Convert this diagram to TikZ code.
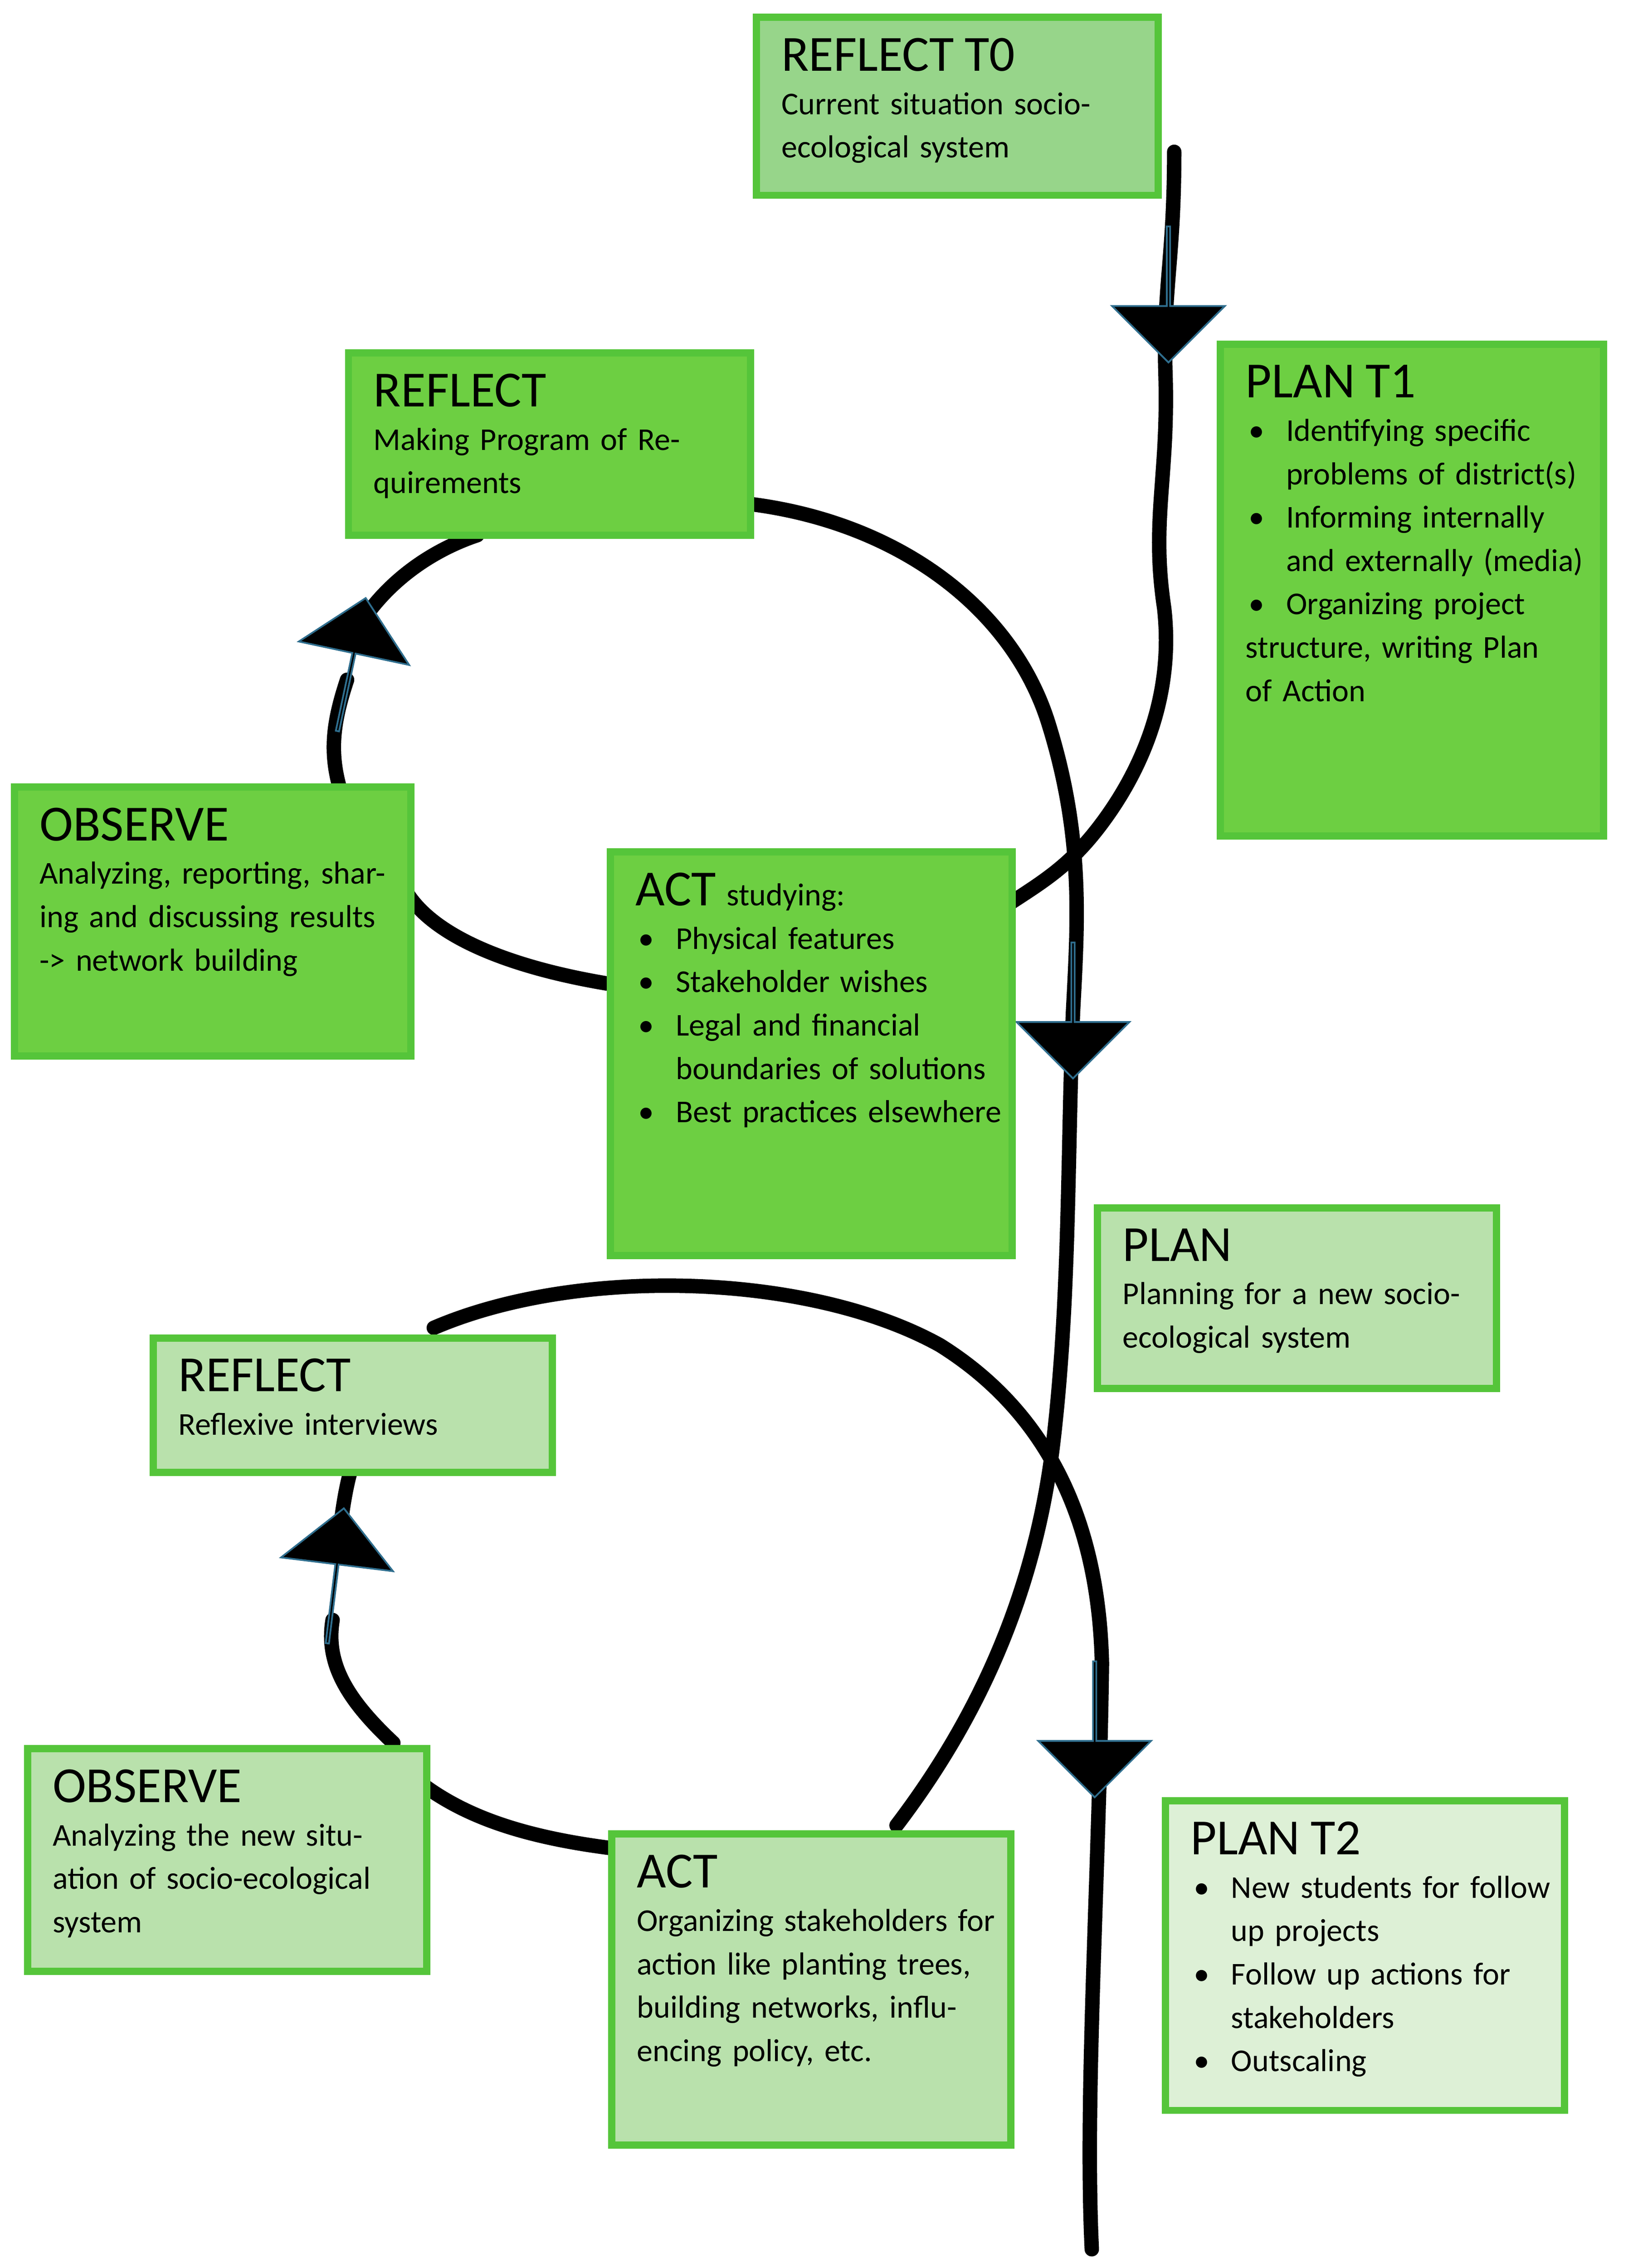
\documentclass[tikz,border=0pt]{standalone}
\usepackage{fontspec}
\setmainfont{Carlito}
\usetikzlibrary{shapes.arrows,calc}
\definecolor{gb}{HTML}{55C53A}
\definecolor{fA}{HTML}{6DCF42}
\definecolor{fB}{HTML}{97D58A}
\definecolor{fC}{HTML}{B9E1AC}
\definecolor{fD}{HTML}{DDF0D6}
\definecolor{arb}{HTML}{2F6E8E}
\newcommand{\ttl}[1]{{\fontsize{17.5}{21}\selectfont #1}\par}
\newcommand{\bi}[1]{\par\hangindent=14pt\hangafter=1\makebox[14pt][l]{\hspace{1pt}\textbullet}#1}
\newcommand{\gbox}[7]{%
  \path[fill=#6,draw=gb,line width=2.5pt] (#2,#3) rectangle (#4,#5);
  \pgfmathsetmacro\tw{(#4-#2)*0.5-12}
  \node[anchor=north west,text width=\tw pt,inner sep=0,align=left,
        font=\fontsize{11}{15}\selectfont] (#1) at ($(#2,#3)+(8.5pt,-7pt)$) {#7};}
\tikzset{blk/.style={single arrow,fill=black,draw=arb,line width=0.6pt,
  minimum width=39pt,minimum height=47pt,inner sep=0pt,text width=0pt,
  single arrow head extend=10pt,single arrow head indent=0pt},
  crv/.style={line width=5pt,line cap=round,line join=round}}
\begin{document}
\begin{tikzpicture}[x=0.5pt,y=-0.5pt]
\useasboundingbox (0,0) rectangle (1129,1568);
% main curve
\draw[crv] (812,105) .. controls (812,180) and (804,200) .. (806,260)
  .. controls (808,330) and (796,360) .. (805,420)
  .. controls (812,480) and (790,530) .. (765,565)
  .. controls (740,600) and (720,610) .. (690,630);
\draw[crv] (420,680) .. controls (360,670) and (300,650) .. (280,615);
\draw[crv] (235,545) .. controls (228,520) and (230,500) .. (240,470);
\draw[crv] (250,430) .. controls (270,400) and (300,380) .. (330,370);
\draw[crv] (515,348) .. controls (620,360) and (700,420) .. (725,500)
  .. controls (750,580) and (745,640) .. (742,700)
  .. controls (738,800) and (740,900) .. (728,1000)
  .. controls (718,1080) and (690,1170) .. (620,1262);
\draw[crv] (425,1278) .. controls (360,1270) and (320,1255) .. (290,1232);
\draw[crv] (272,1205) .. controls (240,1175) and (225,1150) .. (230,1120);
\draw[crv] (235,1060) .. controls (237,1040) and (240,1025) .. (243,1015);
\draw[crv] (300,918) .. controls (400,875) and (560,880) .. (650,930)
  .. controls (730,980) and (760,1060) .. (762,1150)
  .. controls (760,1300) and (750,1450) .. (755,1555);
% arrows
\node[blk,rotate=-90] (a1) at (808,203) {};
\node[blk,rotate=-90] (a2) at (742,698) {};
\node[blk,rotate=-90] (a3) at (757,1195) {};
\node[blk,rotate=78] (a4) at (243,460) {};
\node[blk,rotate=83] (a5) at (232,1090) {};
% boxes
\gbox{r0}{523}{12}{801}{135}{fB}{\ttl{REFLECT T0}Current situation socio-ecological system}
\gbox{p1}{844}{238}{1109}{578}{fA}{\ttl{PLAN T1}\bi{Identifying specific problems of district(s)}\bi{Informing internally and externally (media)}\bi{Organizing project structure, writing Plan of Action}}
\gbox{r1}{241}{244}{519}{370}{fA}{\ttl{REFLECT}Making Program of Requirements}
\gbox{o1}{10}{544}{284}{730}{fA}{\ttl{OBSERVE}Analyzing, reporting, sharing and discussing results -> network building}
\gbox{a1t}{422}{589}{700}{868}{fA}{{\fontsize{17.5}{21}\selectfont ACT} studying:\par\bi{Physical features}\bi{Stakeholder wishes}\bi{Legal and financial boundaries of solutions}\bi{Best practices elsewhere}}
\gbox{pl}{759}{835}{1035}{960}{fC}{\ttl{PLAN}Planning for a new socio-ecological system}
\gbox{r2}{106}{925}{382}{1018}{fC}{\ttl{REFLECT}Reflexive interviews}
\gbox{o2}{19}{1209}{295}{1363}{fC}{\ttl{OBSERVE}Analyzing the new situation of socio-ecological system}
\gbox{a2t}{423}{1268}{699}{1483}{fC}{\ttl{ACT}Organizing stakeholders for action like planting trees, building networks, influencing policy, etc.}
\gbox{p2}{806}{1245}{1082}{1459}{fD}{\ttl{PLAN T2}\bi{New students for follow up projects}\bi{Follow up actions for stakeholders}\bi{Outscaling}}
\end{tikzpicture}
\end{document}
